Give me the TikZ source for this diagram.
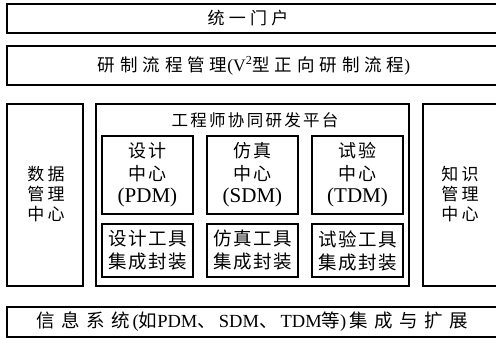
\documentclass[tikz,border=0pt]{standalone}
\usepackage{fontspec}
\setmainfont{Liberation Serif}
\newfontfamily\cjk{Noto Sans CJK SC}
\newcommand{\cs}[2]{{\cjk\addfontfeatures{LetterSpace=#1}#2}}
\newcommand{\lat}[1]{{\fontsize{21}{22.5}\selectfont #1}}
\tikzset{
  box/.style={draw, line width=1.3pt, inner sep=0pt, rectangle},
  txt/.style={inner sep=0pt, align=center, text=black},
}
\begin{document}
\begin{tikzpicture}[x=1pt, y=-1pt]
\useasboundingbox (0,0) rectangle (496,340);
% boxes
\node[box, minimum width=492pt, minimum height=29pt] (portal) at (253,18.5) {};
\node[box, minimum width=492pt, minimum height=39pt] (flow) at (253,65.5) {};
\node[box, minimum width=76pt, minimum height=182pt] (data) at (45,195) {};
\node[box, minimum width=313pt, minimum height=182pt] (plat) at (252.5,195) {};
\node[box, minimum width=76pt, minimum height=182pt] (know) at (461,195) {};
\node[box, minimum width=91pt, minimum height=78pt] (dc) at (147.5,175) {};
\node[box, minimum width=91pt, minimum height=78pt] (sc) at (252.5,175) {};
\node[box, minimum width=91pt, minimum height=78pt] (tc) at (357.5,175) {};
\node[box, minimum width=91pt, minimum height=53pt] (dt) at (147.5,250.5) {};
\node[box, minimum width=91pt, minimum height=53pt] (st) at (252.5,250.5) {};
\node[box, minimum width=91pt, minimum height=53pt] (tt) at (357.5,250.5) {};
\node[box, minimum width=492pt, minimum height=30pt] (info) at (253,322) {};
% texts
\node[txt, font=\fontsize{17}{18}\selectfont] at (248,18) {\cs{25}{统一门户}};
\node[txt, font=\fontsize{17.5}{18}\selectfont] at (254,65.5)
  {\cs{28}{研制流程管理}(V\textsuperscript{2}\cs{28}{型正向研制流程})};
\node[txt, font=\fontsize{16.5}{18}\selectfont] at (255,120) {\cs{14}{工程师协同研发平台}};
\node[txt, font=\fontsize{17}{20}\selectfont] at (46,194) {\cs{20}{数据}\\\cs{20}{管理}\\\cs{20}{中心}};
\node[txt, font=\fontsize{17}{20}\selectfont] at (460,194) {\cs{20}{知识}\\\cs{20}{管理}\\\cs{20}{中心}};
\node[txt, font=\fontsize{18}{22.5}\selectfont] at (dc.center) {\cs{15}{设计}\\\cs{15}{中心}\\\lat{(PDM)}};
\node[txt, font=\fontsize{18}{22.5}\selectfont] at (sc.center) {\cs{15}{仿真}\\\cs{15}{中心}\\\lat{(SDM)}};
\node[txt, font=\fontsize{18}{22.5}\selectfont] at (tc.center) {\cs{15}{试验}\\\cs{15}{中心}\\\lat{(TDM)}};
\node[txt, font=\fontsize{18.5}{23}\selectfont] at (dt.center) {\cs{8}{设计工具}\\\cs{8}{集成封装}};
\node[txt, font=\fontsize{18.5}{23}\selectfont] at (st.center) {\cs{8}{仿真工具}\\\cs{8}{集成封装}};
\node[txt, font=\fontsize{18.5}{23}\selectfont] at (tt.center) {\cs{8}{试验工具}\\\cs{8}{集成封装}};
\node[txt, font=\fontsize{18.5}{20}\selectfont] at (252,322)
  {\cs{35}{信息系统}\,(\cs{0}{如}PDM\cs{0}{、}\,SDM\cs{0}{、}\,TDM\cs{0}{等})\,\cs{35}{集成与扩展}};
\end{tikzpicture}
\end{document}
